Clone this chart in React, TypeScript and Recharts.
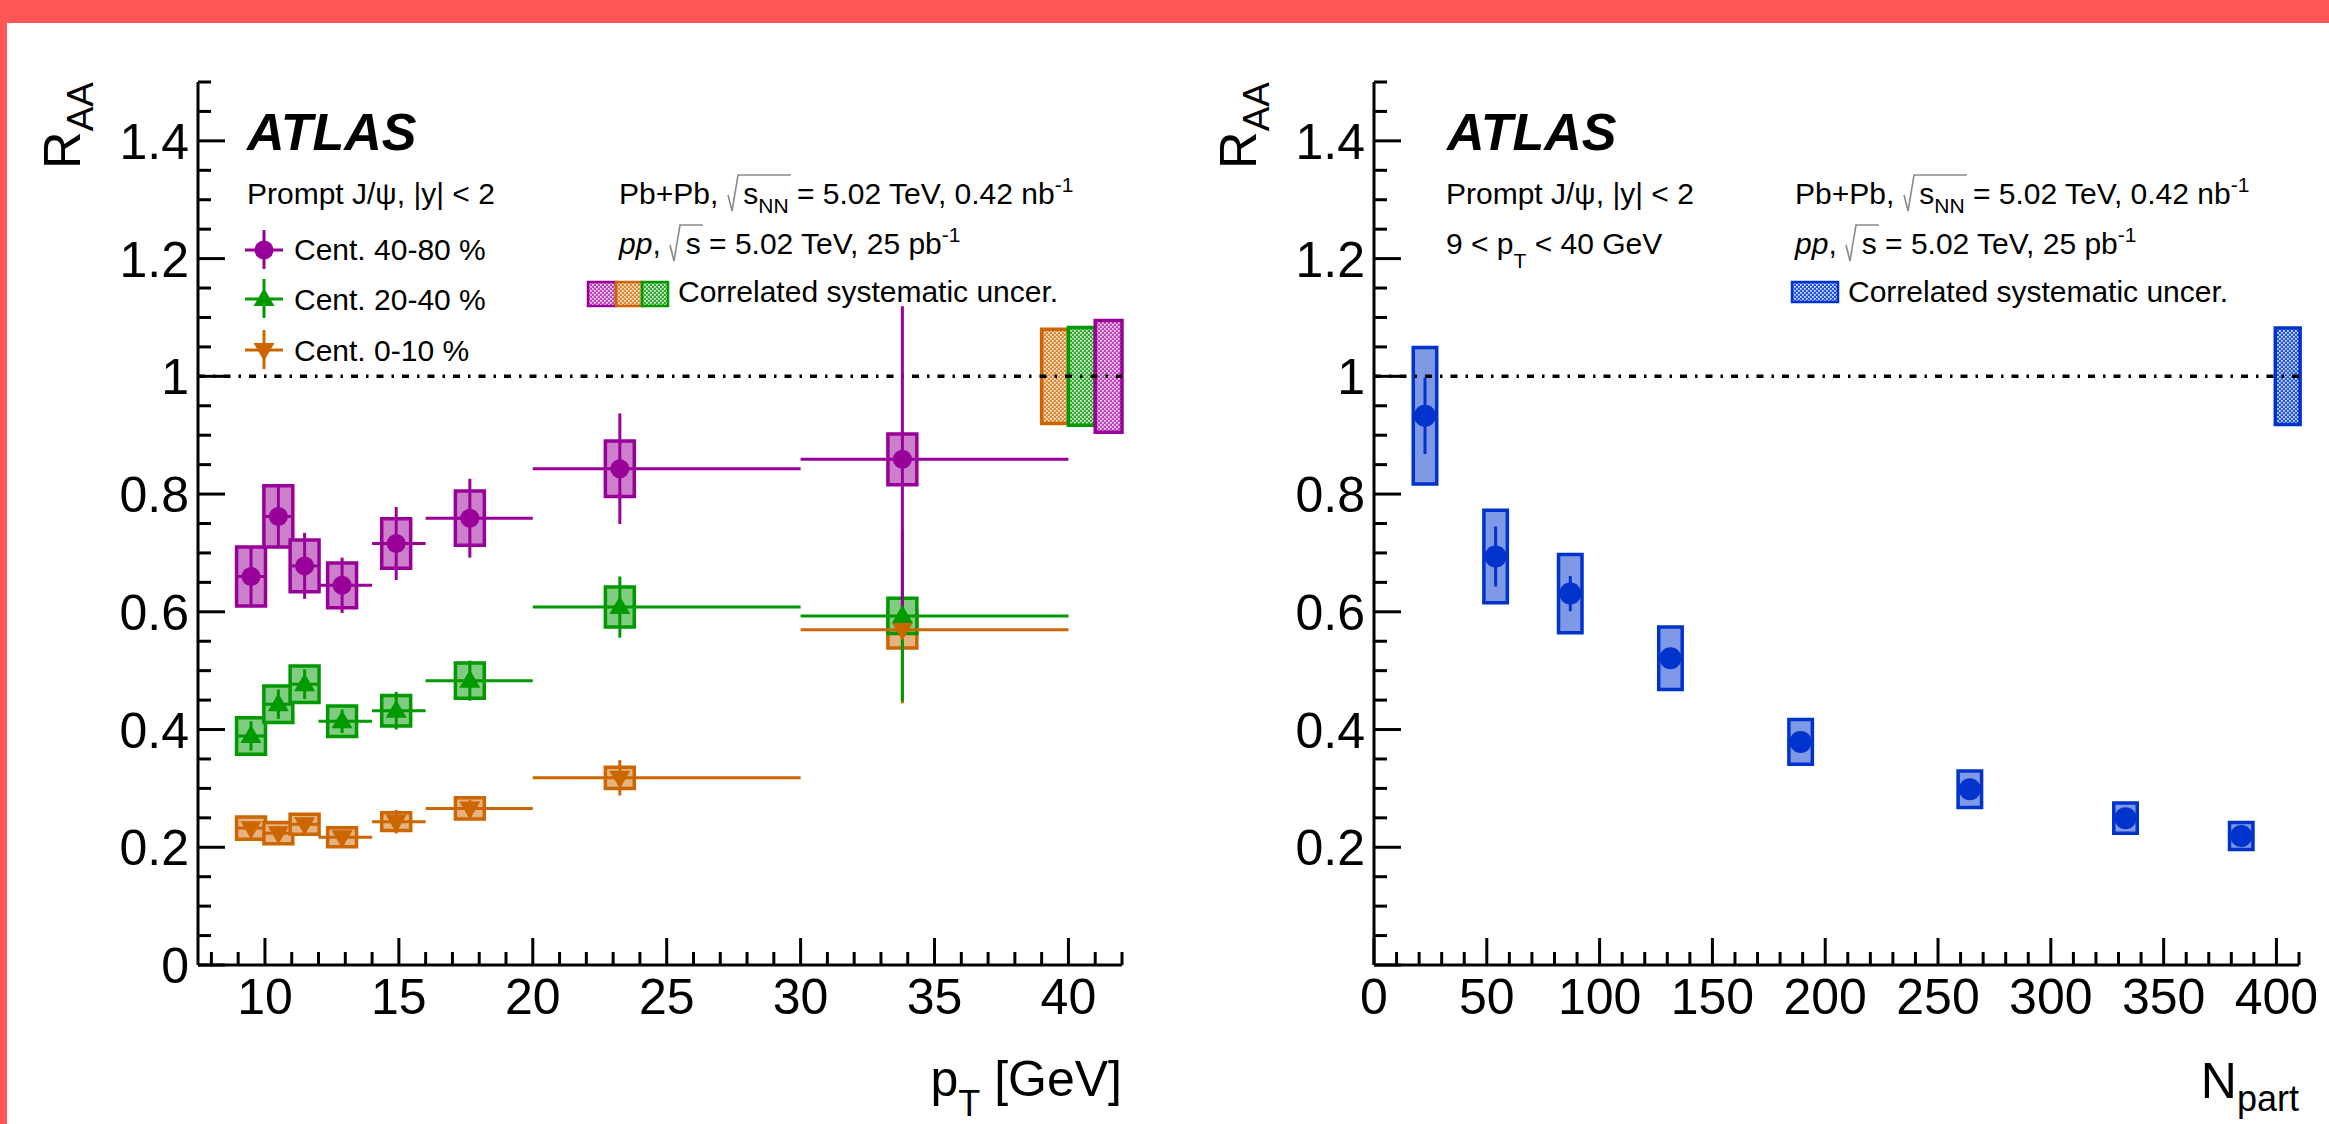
import React from "react";
import {
  ComposedChart,
  Scatter,
  XAxis,
  YAxis,
  ErrorBar,
  ReferenceArea,
  ReferenceLine,
} from "recharts";

// pT bins [GeV] and mean pT of each bin
const ptLow = [9, 10, 11, 12, 14, 16, 20, 30];
const ptHigh = [10, 11, 12, 14, 16, 20, 30, 40];
const ptMean = [9.48, 10.5, 11.48, 12.88, 14.9, 17.65, 23.25, 33.8];

// R_AA vs pT, centrality 40-80 %
const raa4080 = [0.66, 0.762, 0.678, 0.645, 0.716, 0.759, 0.843, 0.859];
const stat4080 = [0.052, 0.054, 0.056, 0.047, 0.062, 0.067, 0.094, 0.26];
const sys4080 = [0.05, 0.052, 0.044, 0.038, 0.042, 0.046, 0.047, 0.043];

// R_AA vs pT, centrality 20-40 %
const raa2040 = [0.389, 0.443, 0.477, 0.414, 0.432, 0.483, 0.608, 0.593];
const stat2040 = [0.025, 0.025, 0.025, 0.02, 0.032, 0.034, 0.052, 0.145];
const sys2040 = [0.031, 0.031, 0.031, 0.026, 0.026, 0.03, 0.034, 0.03];

// R_AA vs pT, centrality 0-10 %
const raa010 = [0.2325, 0.224, 0.239, 0.217, 0.2435, 0.266, 0.318, 0.5695];
const stat010 = [0.012, 0.012, 0.012, 0.012, 0.02, 0.014, 0.03, 0.125];
const sys010 = [0.019, 0.018, 0.017, 0.016, 0.015, 0.018, 0.018, 0.031];

// correlated uncertainties around unity: 0-10, 20-40, 40-80 %
const corrPt = [0.08, 0.083, 0.095];

// R_AA vs Npart, 9 < pT < 40 GeV
const npart = [22.6, 53.9, 87.0, 131.4, 189.1, 264.1, 333.1, 384.4];
const raaNpart = [0.933, 0.694, 0.631, 0.521, 0.379, 0.2985, 0.2495, 0.219];
const statNpart = [0.065, 0.051, 0.03, 0.018, 0.012, 0.01, 0.008, 0.006];
const sysNpart = [0.116, 0.0785, 0.0665, 0.053, 0.038, 0.031, 0.0255, 0.023];
const corrNpart = 0.082;

// axis ticks
const ptTicks = [8, 9, 10, 11, 12, 13, 14, 15, 16, 17, 18, 19, 20, 21, 22, 23, 24, 25, 26, 27, 28, 29, 30, 31, 32, 33, 34, 35, 36, 37, 38, 39, 40, 41, 42];
const npartTicks = [0, 10, 20, 30, 40, 50, 60, 70, 80, 90, 100, 110, 120, 130, 140, 150, 160, 170, 180, 190, 200, 210, 220, 230, 240, 250, 260, 270, 280, 290, 300, 310, 320, 330, 340, 350, 360, 370, 380, 390, 400, 410];
const raaTicks = [0, 0.05, 0.1, 0.15, 0.2, 0.25, 0.3, 0.35, 0.4, 0.45, 0.5, 0.55, 0.6, 0.65, 0.7, 0.75, 0.8, 0.85, 0.9, 0.95, 1, 1.05, 1.1, 1.15, 1.2, 1.25, 1.3, 1.35, 1.4, 1.45, 1.5];

const FONT = "'Liberation Sans', Arial, Helvetica, sans-serif";
const PURPLE = "#990099";
const GREEN = "#009900";
const ORANGE = "#cc6600";
const BLUE = "#0033cc";

const ptRows = (raa: number[], stat: number[], sys: number[]) =>
  ptMean.map((x, i) => ({
    x,
    y: raa[i],
    ex: [x - ptLow[i], ptHigh[i] - x],
    ey: stat[i],
    sys: sys[i],
  }));

const rows4080 = ptRows(raa4080, stat4080, sys4080);
const rows2040 = ptRows(raa2040, stat2040, sys2040);
const rows010 = ptRows(raa010, stat010, sys010);
const rowsNpart = npart.map((x, i) => ({
  x,
  y: raaNpart[i],
  ey: statNpart[i],
  sys: sysNpart[i],
}));

function isMult(v: number, step: number) {
  const r = v / step;
  return Math.abs(r - Math.round(r)) < 1e-6;
}

function fmt(v: number) {
  return String(Math.round(v * 100) / 100);
}

function xTick(side: "bottom" | "top", major: number, lo: number, hi: number) {
  return (p: any) => {
    const v = p.payload.value;
    const big = isMult(v, major);
    const len = big ? 27 : 13;
    const y2 = side === "bottom" ? p.y - len : p.y + len;
    return (
      <g>
        <line x1={p.x} x2={p.x} y1={p.y} y2={y2} stroke="#000" strokeWidth={3} />
        {side === "bottom" && big && v >= lo && v <= hi ? (
          <text x={p.x} y={p.y + 49} textAnchor="middle" fontSize={50} fontFamily={FONT} fill="#000">
            {fmt(v)}
          </text>
        ) : null}
      </g>
    );
  };
}

function yTick(side: "left" | "right", lo: number, hi: number) {
  return (p: any) => {
    const v = p.payload.value;
    const big = isMult(v, 0.2);
    const len = big ? 27 : 13;
    const x2 = side === "left" ? p.x + len : p.x - len;
    return (
      <g>
        <line x1={p.x} x2={x2} y1={p.y} y2={p.y} stroke="#000" strokeWidth={3} />
        {side === "left" && big && v >= lo - 1e-6 && v <= hi + 1e-6 ? (
          <text x={p.x - 9} y={p.y + 18} textAnchor="end" fontSize={50} fontFamily={FONT} fill="#000">
            {fmt(v)}
          </text>
        ) : null}
      </g>
    );
  };
}

const dot = (r: number, color: string) => (p: any) =>
  <circle cx={p.cx} cy={p.cy} r={r} fill={color} />;
const triUp = (color: string) => (p: any) =>
  <path d={`M${p.cx},${p.cy - 11} L${p.cx + 10.5},${p.cy + 7} L${p.cx - 10.5},${p.cy + 7} Z`} fill={color} />;
const triDown = (color: string) => (p: any) =>
  <path d={`M${p.cx},${p.cy + 11} L${p.cx + 10.5},${p.cy - 7} L${p.cx - 10.5},${p.cy - 7} Z`} fill={color} />;

const axisLine = { stroke: "#000", strokeWidth: 3 };

function boxes(rows: any[], half: number, fill: string, stroke: string, key: string) {
  return rows.map((r, i) => (
    <ReferenceArea
      key={key + i}
      x1={r.x - half}
      x2={r.x + half}
      y1={r.y - r.sys}
      y2={r.y + r.sys}
      fill={fill}
      fillOpacity={1}
      stroke={stroke}
      strokeWidth={3.5}
      ifOverflow="visible"
    />
  ));
}

function Radical({ x, base, end }: { x: number; base: number; end: number }) {
  return (
    <path
      d={`M${x + 1},${base - 9} L${x + 5},${base + 7} L${x + 11},${base - 29} L${end},${base - 29}`}
      fill="none"
      stroke="#8a8a8a"
      strokeWidth={1.6}
    />
  );
}

function LumiBlock({ x }: { x: number }) {
  return (
    <g fontFamily={FONT} fontSize={30} fill="#000">
      <text x={x} y={204}>
        Pb+Pb,
        <tspan dx={25}>s</tspan>
        <tspan fontSize={21} dy={9}>NN</tspan>
        <tspan dy={-9}> = 5.02 TeV, 0.42 nb</tspan>
        <tspan fontSize={21} dy={-12}>-1</tspan>
      </text>
      <Radical x={x + 108} base={204} end={x + 172} />
      <text x={x} y={254}>
        <tspan fontStyle="italic">pp</tspan>,
        <tspan dx={25}>s</tspan>
        <tspan> = 5.02 TeV, 25 pb</tspan>
        <tspan fontSize={21} dy={-12}>-1</tspan>
      </text>
      <Radical x={x + 50} base={254} end={x + 84} />
    </g>
  );
}

function LegendMarker({ x, y, color, kind }: { x: number; y: number; color: string; kind: string }) {
  let m: any;
  if (kind === "dot") m = <circle cx={x} cy={y} r={9.5} fill={color} />;
  else if (kind === "up")
    m = <path d={`M${x},${y - 11} L${x + 10.5},${y + 7} L${x - 10.5},${y + 7} Z`} fill={color} />;
  else m = <path d={`M${x},${y + 11} L${x + 10.5},${y - 7} L${x - 10.5},${y - 7} Z`} fill={color} />;
  return (
    <g>
      <line x1={x} x2={x} y1={y - 20} y2={y + 19} stroke={color} strokeWidth={3} />
      <line x1={x - 19} x2={x + 19} y1={y} y2={y} stroke={color} strokeWidth={3} />
      {m}
    </g>
  );
}

export default function App() {
  return (
    <div
      style={{
        position: "absolute",
        left: 0,
        top: 0,
        width: 2329,
        height: 1124,
        background: "#fff",
        overflow: "hidden",
        fontFamily: FONT,
      }}
    >
      <svg width={0} height={0} style={{ position: "absolute" }}>
        <defs>
          {[
            ["patPurple", "#bb44bb"],
            ["patOrange", "#dd8833"],
            ["patGreen", "#33aa33"],
            ["patBlue", "#2255dd"],
          ].map(([id, c]) => (
            <pattern key={id} id={id} width={4} height={4} patternUnits="userSpaceOnUse">
              <rect width={4} height={4} fill={c} />
              <rect x={0} y={0} width={1.7} height={1.7} fill="#fff" fillOpacity={0.85} />
              <rect x={2} y={2} width={1.7} height={1.7} fill="#fff" fillOpacity={0.85} />
            </pattern>
          ))}
        </defs>
      </svg>

      {/* left panel: R_AA vs pT */}
      <div style={{ position: "absolute", left: 0, top: 0 }}>
        <ComposedChart width={1165} height={1124} margin={{ top: 82, right: 43, bottom: 0, left: 0 }}>
          <XAxis
            dataKey="x"
            type="number"
            domain={[7.5, 42]}
            allowDataOverflow
            ticks={ptTicks}
            interval={0}
            height={159}
            tickSize={0}
            tickMargin={0}
            axisLine={axisLine}
            tickLine={false}
            tick={xTick("bottom", 5, 10, 40)}
          />
          <XAxis
            xAxisId="top"
            orientation="top"
            type="number"
            domain={[7.5, 42]}
            allowDataOverflow
            ticks={ptTicks}
            interval={0}
            height={0}
            tickSize={0}
            tickMargin={0}
            axisLine={axisLine}
            tickLine={false}
            tick={xTick("top", 5, 10, 40)}
          />
          <YAxis
            type="number"
            domain={[0, 1.5]}
            allowDataOverflow
            ticks={raaTicks}
            interval={0}
            width={198}
            tickSize={0}
            tickMargin={0}
            axisLine={axisLine}
            tickLine={false}
            tick={yTick("left", 0, 1.4)}
          />
          <YAxis
            yAxisId="right"
            orientation="right"
            type="number"
            domain={[0, 1.5]}
            allowDataOverflow
            ticks={raaTicks}
            interval={0}
            width={0}
            tickSize={0}
            tickMargin={0}
            axisLine={axisLine}
            tickLine={false}
            tick={yTick("right", 0, 1.4)}
          />

          {boxes(rows4080, 0.54, "#cc80cc", PURPLE, "p")}
          {boxes(rows010, 0.54, "#e6b380", ORANGE, "o")}
          {boxes(rows2040, 0.54, "#80cc80", GREEN, "g")}

          <ReferenceArea x1={39} x2={40} y1={1 - corrPt[0]} y2={1 + corrPt[0]} fill="url(#patOrange)" fillOpacity={1} stroke={ORANGE} strokeWidth={3.5} ifOverflow="visible" />
          <ReferenceArea x1={40} x2={41} y1={1 - corrPt[1]} y2={1 + corrPt[1]} fill="url(#patGreen)" fillOpacity={1} stroke={GREEN} strokeWidth={3.5} ifOverflow="visible" />
          <ReferenceArea x1={41} x2={42} y1={1 - corrPt[2]} y2={1 + corrPt[2]} fill="url(#patPurple)" fillOpacity={1} stroke={PURPLE} strokeWidth={3.5} ifOverflow="visible" />

          <ReferenceLine y={1} stroke="#000" strokeWidth={3.5} strokeDasharray="7 8 2.5 8" />

          <Scatter data={rows010} dataKey="y" shape={triDown(ORANGE)} isAnimationActive={false}>
            <ErrorBar dataKey="ey" direction="y" width={0} stroke={ORANGE} strokeWidth={3} isAnimationActive={false} />
            <ErrorBar dataKey="ex" direction="x" width={0} stroke={ORANGE} strokeWidth={3} isAnimationActive={false} />
          </Scatter>
          <Scatter data={rows2040} dataKey="y" shape={triUp(GREEN)} isAnimationActive={false}>
            <ErrorBar dataKey="ey" direction="y" width={0} stroke={GREEN} strokeWidth={3} isAnimationActive={false} />
            <ErrorBar dataKey="ex" direction="x" width={0} stroke={GREEN} strokeWidth={3} isAnimationActive={false} />
          </Scatter>
          <Scatter data={rows4080} dataKey="y" shape={dot(9.5, PURPLE)} isAnimationActive={false}>
            <ErrorBar dataKey="ey" direction="y" width={0} stroke={PURPLE} strokeWidth={3} isAnimationActive={false} />
            <ErrorBar dataKey="ex" direction="x" width={0} stroke={PURPLE} strokeWidth={3} isAnimationActive={false} />
          </Scatter>
        </ComposedChart>
      </div>

      {/* right panel: R_AA vs Npart */}
      <div style={{ position: "absolute", left: 1165, top: 0 }}>
        <ComposedChart width={1164} height={1124} margin={{ top: 82, right: 30, bottom: 0, left: 0 }}>
          <XAxis
            dataKey="x"
            type="number"
            domain={[0, 410]}
            allowDataOverflow
            ticks={npartTicks}
            interval={0}
            height={159}
            tickSize={0}
            tickMargin={0}
            axisLine={axisLine}
            tickLine={false}
            tick={xTick("bottom", 50, 0, 400)}
          />
          <XAxis
            xAxisId="top"
            orientation="top"
            type="number"
            domain={[0, 410]}
            allowDataOverflow
            ticks={npartTicks}
            interval={0}
            height={0}
            tickSize={0}
            tickMargin={0}
            axisLine={axisLine}
            tickLine={false}
            tick={xTick("top", 50, 0, 400)}
          />
          <YAxis
            type="number"
            domain={[0, 1.5]}
            allowDataOverflow
            ticks={raaTicks}
            interval={0}
            width={209}
            tickSize={0}
            tickMargin={0}
            axisLine={axisLine}
            tickLine={false}
            tick={yTick("left", 0.2, 1.4)}
          />
          <YAxis
            yAxisId="right"
            orientation="right"
            type="number"
            domain={[0, 1.5]}
            allowDataOverflow
            ticks={raaTicks}
            interval={0}
            width={0}
            tickSize={0}
            tickMargin={0}
            axisLine={axisLine}
            tickLine={false}
            tick={yTick("right", 0, 1.4)}
          />

          {boxes(rowsNpart, 5.2, "#7f99e6", BLUE, "b")}
          <ReferenceArea x1={399.5} x2={410.5} y1={1 - corrNpart} y2={1 + corrNpart} fill="url(#patBlue)" fillOpacity={1} stroke={BLUE} strokeWidth={3.5} ifOverflow="visible" />

          <ReferenceLine y={1} stroke="#000" strokeWidth={3.5} strokeDasharray="7 8 2.5 8" />

          <Scatter data={rowsNpart} dataKey="y" shape={dot(11, BLUE)} isAnimationActive={false}>
            <ErrorBar dataKey="ey" direction="y" width={0} stroke={BLUE} strokeWidth={3} isAnimationActive={false} />
          </Scatter>
        </ComposedChart>
      </div>

      {/* labels and legends */}
      <svg width={2329} height={1124} style={{ position: "absolute", left: 0, top: 0, pointerEvents: "none" }}>
        <rect x={0} y={0} width={2329} height={23} fill="#ff5555" />
        <rect x={0} y={0} width={7} height={1124} fill="#ff5555" />

        {/* axis titles */}
        <text transform="translate(80,82) rotate(-90)" textAnchor="end" fontFamily={FONT} fontSize={52} fill="#000">
          R<tspan fontSize={37} dy={13}>AA</tspan>
        </text>
        <text transform="translate(1256,82) rotate(-90)" textAnchor="end" fontFamily={FONT} fontSize={52} fill="#000">
          R<tspan fontSize={37} dy={13}>AA</tspan>
        </text>
        <text x={1122} y={1096} textAnchor="end" fontFamily={FONT} fontSize={50} fill="#000">
          p<tspan fontSize={36} dy={20}>T</tspan>
          <tspan dy={-20}> [GeV]</tspan>
        </text>
        <text x={2299} y={1098} textAnchor="end" fontFamily={FONT} fontSize={50} fill="#000">
          N<tspan fontSize={36} dy={13}>part</tspan>
        </text>

        {/* left panel texts */}
        <text x={247} y={150} fontFamily={FONT} fontSize={52} fontWeight="bold" fontStyle="italic" fill="#000">
          ATLAS
        </text>
        <text x={247} y={204} fontFamily={FONT} fontSize={30} fill="#000">
          Prompt J/ψ, |y| &lt; 2
        </text>
        <LegendMarker x={264} y={250} color={PURPLE} kind="dot" />
        <LegendMarker x={264} y={299} color={GREEN} kind="up" />
        <LegendMarker x={264} y={350} color={ORANGE} kind="down" />
        <g fontFamily={FONT} fontSize={30} fill="#000">
          <text x={294} y={260}>Cent. 40-80 %</text>
          <text x={294} y={310}>Cent. 20-40 %</text>
          <text x={294} y={361}>Cent. 0-10 %</text>
        </g>
        <LumiBlock x={619} />
        <rect x={588} y={282} width={28} height={24} fill="url(#patPurple)" stroke={PURPLE} strokeWidth={2.5} />
        <rect x={616} y={282} width={26} height={24} fill="url(#patOrange)" stroke={ORANGE} strokeWidth={2.5} />
        <rect x={642} y={282} width={26} height={24} fill="url(#patGreen)" stroke={GREEN} strokeWidth={2.5} />
        <text x={678} y={302} fontFamily={FONT} fontSize={30} fill="#000">
          Correlated systematic uncer.
        </text>

        {/* right panel texts */}
        <text x={1447} y={150} fontFamily={FONT} fontSize={52} fontWeight="bold" fontStyle="italic" fill="#000">
          ATLAS
        </text>
        <text x={1446} y={204} fontFamily={FONT} fontSize={30} fill="#000">
          Prompt J/ψ, |y| &lt; 2
        </text>
        <text x={1446} y={254} fontFamily={FONT} fontSize={30} fill="#000">
          9 &lt; p<tspan fontSize={21} dy={14}>T</tspan>
          <tspan dy={-14}> &lt; 40 GeV</tspan>
        </text>
        <LumiBlock x={1795} />
        <rect x={1792} y={282} width={46} height={20} fill="url(#patBlue)" stroke={BLUE} strokeWidth={2.5} />
        <text x={1848} y={302} fontFamily={FONT} fontSize={30} fill="#000">
          Correlated systematic uncer.
        </text>
      </svg>
    </div>
  );
}
